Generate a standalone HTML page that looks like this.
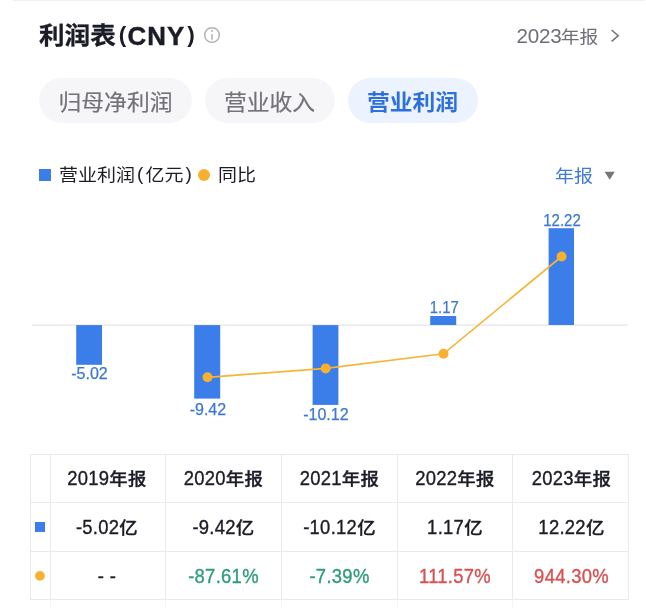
<!DOCTYPE html>
<html lang="zh-CN">
<head>
<meta charset="utf-8">
<title>利润表</title>
<style>
*{box-sizing:border-box;margin:0;padding:0}
html,body{width:646px;height:608px;background:#fff;overflow:hidden}
body{position:relative;font-family:"Liberation Sans","Noto Sans CJK SC",sans-serif;color:#1b1c27}
.abs{position:absolute;white-space:nowrap}
.c{display:inline-block;transform:scaleY(.9);transform-origin:50% 56%}
.topline{left:12.5px;top:0;width:632px;height:1px;background:#f1f1f3}
.title{left:39px;top:17px;font-size:25px;line-height:36px;font-weight:700;color:#1b1c27}
.period{left:516.6px;top:22px;font-size:19.6px;line-height:28px;color:#6d6e78}
.pill{top:78px;height:45px;border-radius:23px;background:#f6f6f8;color:#727278;-webkit-text-stroke:.2px currentColor;font-size:22.8px;line-height:46px;text-align:center}
.pill.on{background:#ecf2fe;color:#2e70da;font-weight:700;-webkit-text-stroke:0}
.pill .c{transform:translateY(1.2px) scaleY(.93)}
.leg{top:160.5px;font-size:19px;line-height:28px;color:#1b1c27}
.p{display:inline-block;width:10.5px;text-align:center;position:relative;top:-.5px}
.sq{background:#3b7de9}
.dot{background:#f9b030;border-radius:50%}
.sel{left:555px;top:161.8px;font-size:19px;line-height:28px;color:#3d7bd6}
.ln{background:#eaeaec}
.cell{text-align:center;font-size:19px;font-weight:500;color:#1b1c27;letter-spacing:.3px;-webkit-text-stroke:.35px currentColor}
.t{transform:scale(.97,1.05)}
.r1 .t{transform:translate(0px,0px) scale(.97,1.05)}
.r2 .t{transform:translate(0px,.9px) scale(.97,1.05)}
.r3 .t{transform:translate(0px,1px) scale(.97,1.05)}
.cell .c{transform:scaleY(.86)}
.g{color:#2f9e76}
.r{color:#d75254}
</style>
</head>
<body>
<div class="abs topline"></div>
<div class="abs title"><span class="c" style="font-size:25.6px;transform:translateY(.6px) scaleY(.925);-webkit-text-stroke:.3px #1b1c27">利润表</span><span style="margin-left:3px;font-weight:700;font-size:22.5px;position:relative;top:-2.3px">(</span><span style="letter-spacing:1.1px;font-size:25.8px;margin-left:1.2px;position:relative;top:.9px;-webkit-text-stroke:.45px #1b1c27">CNY</span><span style="margin-left:2px;font-weight:700;font-size:22.5px;position:relative;top:-2.3px">)</span></div>
<svg class="abs" style="left:203.2px;top:26.15px" width="18" height="18" viewBox="0 0 18 18"><circle cx="9" cy="9" r="7.3" fill="none" stroke="#b3b3b6" stroke-width="1.5"/><rect x="8.25" y="8" width="1.5" height="5.7" fill="#b3b3b6"/><circle cx="9" cy="4.95" r="1" fill="#b3b3b6"/></svg>
<div class="abs period"><span style="font-size:20.6px;letter-spacing:-.2px">2023</span><span class="c" style="font-size:18.8px;margin-left:-.8px">年报</span></div>
<svg class="abs" style="left:608px;top:28px" width="14" height="16" viewBox="0 0 14 16"><path d="M3.6 2.0 L10.2 7.7 L3.6 13.4" fill="none" stroke="#6f6f76" stroke-width="1.5"/></svg>

<div class="abs pill" style="left:39px;width:153px"><span class="c">归母净利润</span></div>
<div class="abs pill" style="left:204.5px;width:130px"><span class="c">营业收入</span></div>
<div class="abs pill on" style="left:347.5px;width:130px"><span class="c">营业利润</span></div>

<div class="abs sq" style="left:39.2px;top:168.6px;width:12px;height:12px"></div>
<div class="abs leg" style="left:59px"><span class="c">营业利润</span><span class="p">(</span><span class="c">亿元</span><span class="p">)</span></div>
<div class="abs dot" style="left:198px;top:169px;width:12px;height:12px"></div>
<div class="abs leg" style="left:218px"><span class="c">同比</span></div>
<div class="abs sel"><span class="c">年报</span></div>
<svg class="abs" style="left:604px;top:171px" width="12" height="10" viewBox="0 0 12 10"><path d="M0.6 0.8 H10.8 L5.7 8.8 Z" fill="#77767f"/></svg>

<svg class="abs" style="left:0;top:200px" width="646" height="250" viewBox="0 200 646 250">
  <rect x="32" y="324.4" width="595.5" height="1.5" fill="#e9e9eb"/>
  <g fill="#3b7de9">
    <rect x="76.2" y="325.1" width="25.8" height="39.7"/>
    <rect x="194.2" y="325.1" width="26" height="73.5"/>
    <rect x="312.6" y="325.1" width="25.8" height="79.8"/>
    <rect x="430.2" y="316" width="26" height="9"/>
    <rect x="548.6" y="228.2" width="25.4" height="96.8"/>
  </g>
  <polyline points="207.5,377.3 325.7,368.4 443.5,353.8 561.6,256.5" fill="none" stroke="#f4b636" stroke-width="1.7"/>
  <g fill="#f9b030">
    <circle cx="207.5" cy="377.3" r="5"/>
    <circle cx="325.7" cy="368.4" r="5"/>
    <circle cx="443.5" cy="353.8" r="5"/>
    <circle cx="561.6" cy="256.5" r="5"/>
  </g>
  <g font-family="Liberation Sans, sans-serif" font-size="16" fill="#3e78d0" stroke="#3e78d0" stroke-width="0.25" text-anchor="middle">
    <text x="89.5" y="379.3">-5.02</text>
    <text x="207.9" y="415">-9.42</text>
    <text x="325.9" y="419.6">-10.12</text>
    <text x="444.3" y="312.7" textLength="29" lengthAdjust="spacingAndGlyphs">1.17</text>
    <text x="562" y="225.6" textLength="37.5" lengthAdjust="spacingAndGlyphs">12.22</text>
  </g>
</svg>

<div class="abs ln" style="left:30px;top:454px;width:1px;height:146px"></div>
<div class="abs ln" style="left:50px;top:454px;width:1px;height:146px"></div>
<div class="abs ln" style="left:165px;top:454px;width:1px;height:146px"></div>
<div class="abs ln" style="left:281px;top:454px;width:1px;height:146px"></div>
<div class="abs ln" style="left:397px;top:454px;width:1px;height:146px"></div>
<div class="abs ln" style="left:512px;top:454px;width:1px;height:146px"></div>
<div class="abs ln" style="left:628px;top:454px;width:1px;height:146px"></div>
<div class="abs ln" style="left:30px;top:454px;width:599px;height:1px"></div>
<div class="abs ln" style="left:30px;top:502px;width:599px;height:1px"></div>
<div class="abs ln" style="left:30px;top:551px;width:599px;height:1px"></div>
<div class="abs ln" style="left:30px;top:599px;width:599px;height:1px"></div>
<div class="abs" style="left:50px;top:600px;width:1px;height:8px;background:#f6f6f8"></div>
<div class="abs" style="left:165px;top:600px;width:1px;height:8px;background:#f6f6f8"></div>
<div class="abs" style="left:281px;top:600px;width:1px;height:8px;background:#f6f6f8"></div>
<div class="abs" style="left:397px;top:600px;width:1px;height:8px;background:#f6f6f8"></div>
<div class="abs" style="left:512px;top:600px;width:1px;height:8px;background:#f6f6f8"></div>
<div class="abs cell r1" style="left:50.1px;top:455px;width:114px;height:47px;line-height:47px"><div class="t">2019<span class="c">年报</span></div></div>
<div class="abs cell r1" style="left:165.5px;top:455px;width:115px;height:47px;line-height:47px"><div class="t">2020<span class="c">年报</span></div></div>
<div class="abs cell r1" style="left:282.0px;top:455px;width:115px;height:47px;line-height:47px"><div class="t">2021<span class="c">年报</span></div></div>
<div class="abs cell r1" style="left:398.3px;top:455px;width:114px;height:47px;line-height:47px"><div class="t">2022<span class="c">年报</span></div></div>
<div class="abs cell r1" style="left:513.6px;top:455px;width:115px;height:47px;line-height:47px"><div class="t">2023<span class="c">年报</span></div></div>
<div class="abs cell r2" style="left:50.1px;top:503px;width:114px;height:48px;line-height:48px"><div class="t">-5.02<span class="c">亿</span></div></div>
<div class="abs cell r2" style="left:165.5px;top:503px;width:115px;height:48px;line-height:48px"><div class="t">-9.42<span class="c">亿</span></div></div>
<div class="abs cell r2" style="left:282.0px;top:503px;width:115px;height:48px;line-height:48px"><div class="t">-10.12<span class="c">亿</span></div></div>
<div class="abs cell r2" style="left:398.3px;top:503px;width:114px;height:48px;line-height:48px"><div class="t">1.17<span class="c">亿</span></div></div>
<div class="abs cell r2" style="left:513.6px;top:503px;width:115px;height:48px;line-height:48px"><div class="t">12.22<span class="c">亿</span></div></div>
<div class="abs cell r3" style="left:50.1px;top:552px;width:114px;height:47px;line-height:47px"><div class="t">- -</div></div>
<div class="abs cell r3 g" style="left:165.5px;top:552px;width:115px;height:47px;line-height:47px"><div class="t">-87.61%</div></div>
<div class="abs cell r3 g" style="left:282.0px;top:552px;width:115px;height:47px;line-height:47px"><div class="t">-7.39%</div></div>
<div class="abs cell r3 r" style="left:398.3px;top:552px;width:114px;height:47px;line-height:47px"><div class="t">111.57%</div></div>
<div class="abs cell r3 r" style="left:513.6px;top:552px;width:115px;height:47px;line-height:47px"><div class="t">944.30%</div></div>
<div class="abs sq" style="left:35.3px;top:522.4px;width:9.6px;height:9.6px"></div>
<svg class="abs" style="left:30px;top:565px" width="20" height="20" viewBox="0 0 20 20"><circle cx="9.95" cy="10.85" r="4.9" fill="#f9b030"/></svg>
</body>
</html>
